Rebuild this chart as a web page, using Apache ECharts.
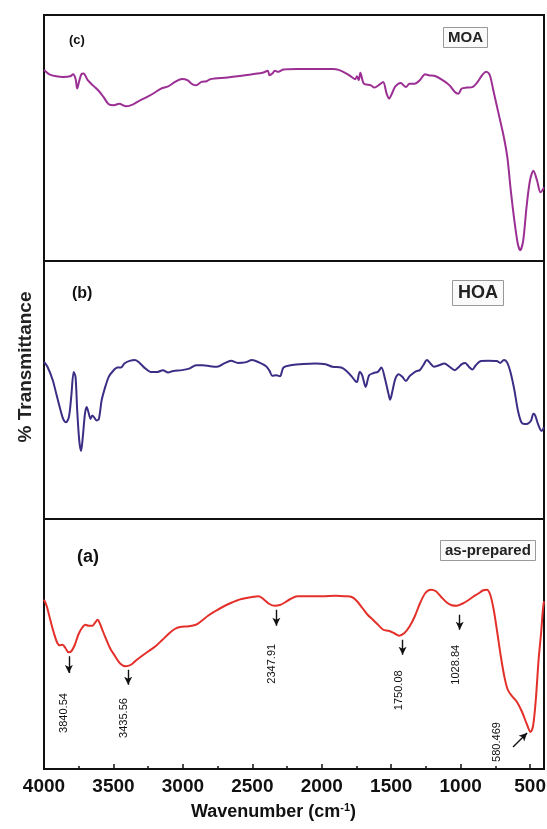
<!DOCTYPE html>
<html><head><meta charset="utf-8">
<script src="https://cdn.jsdelivr.net/npm/echarts@6/dist/echarts.min.js"></script>
<style>html,body{margin:0;padding:0;background:#fff}#c{width:547px;height:829px}</style>
</head><body><div id="c"></div>
<script>
// ---- data (wavenumber cm^-1, relative transmittance) ----
const moaWn = [4000,3962,3912,3862,3811,3791,3773,3761,3748,3731,3716,3685,3648,3610,3572,3534,3497,3459,3408,3358,3308,3257,3207,3157,3106,3056,3006,2968,2930,2905,2867,2829,2804,2678,2552,2427,2389,2376,2356,2338,2313,2276,2175,2049,1923,1873,1822,1785,1759,1747,1734,1722,1697,1646,1621,1583,1558,1533,1515,1495,1470,1432,1394,1369,1332,1294,1256,1231,1180,1130,1080,1042,1017,992,954,916,878,841,815,790,765,727,689,664,639,613,588,571,550,526,501,476,450,425,400];
const moaT  = [77.6,75.9,75.1,74.8,75.1,75.9,74.1,70.1,72.8,75.9,76.2,73.5,71.4,69.4,66.7,63.7,63.3,63.9,62.9,63.7,65.3,66.7,68.3,70.1,71.0,72.8,74.0,73.5,71.8,71.4,72.8,73.1,73.9,74.6,75.5,76.5,77.3,75.5,76.2,77.3,76.9,77.8,78.0,78.0,78.0,77.6,76.2,74.8,73.9,75.1,73.5,76.5,72.1,71.4,70.5,71.8,72.8,68.0,66.0,68.0,71.0,72.4,70.7,72.1,72.1,73.5,75.9,75.5,75.1,73.5,71.4,68.7,68.0,70.1,70.5,70.7,72.8,75.9,76.9,75.5,69.4,59.9,50.3,42.2,28.6,16.3,6.8,4.4,8.2,21.8,32.7,36.7,32.7,27.9,29.9];

const hoaWn = [4000,3975,3937,3912,3887,3862,3841,3821,3804,3786,3773,3761,3746,3733,3721,3705,3693,3680,3665,3653,3640,3622,3605,3585,3559,3534,3509,3471,3446,3421,3383,3345,3308,3270,3232,3182,3144,3106,3069,3006,2955,2905,2855,2804,2754,2703,2653,2603,2552,2502,2452,2401,2376,2356,2326,2301,2276,2225,2150,2049,1973,1923,1860,1822,1785,1759,1747,1727,1709,1684,1659,1626,1596,1571,1545,1520,1508,1490,1470,1445,1420,1394,1369,1344,1319,1294,1269,1243,1218,1193,1155,1117,1080,1042,1017,992,967,941,916,891,853,803,740,715,689,664,639,613,588,563,538,513,493,476,463,443,418,400];
const hoaT  = [60.9,59.0,53.8,48.6,43.4,38.8,37.5,39.5,47.3,57.0,55.1,42.1,30.3,26.4,31.6,40.8,43.4,41.4,38.8,40.1,39.5,38.2,38.8,46.0,51.2,55.1,57.0,58.7,58.7,60.3,61.3,61.6,60.3,58.3,57.0,57.0,57.7,56.8,57.4,57.7,58.3,59.6,59.6,59.2,59.0,60.3,61.3,60.5,60.7,61.6,60.7,59.2,57.4,55.5,55.7,55.3,58.7,59.6,60.0,60.3,60.0,59.0,58.7,57.4,55.3,53.5,53.1,57.0,55.7,51.2,55.7,56.6,57.0,58.7,54.4,48.6,46.2,49.9,54.4,56.1,55.1,53.5,55.3,56.4,57.3,57.7,59.6,61.6,60.3,59.0,59.6,60.3,59.0,57.7,58.7,60.0,60.5,59.0,57.9,59.6,61.2,61.3,61.2,60.5,61.6,60.5,56.4,49.9,42.1,37.5,36.8,37.1,38.2,40.8,40.1,36.8,34.2,35.5];

const apWn = [4000,3980,3955,3929,3904,3886,3866,3846,3823,3803,3778,3753,3727,3702,3677,3652,3634,3614,3594,3576,3551,3525,3488,3450,3412,3374,3336,3298,3248,3197,3147,3096,3059,3021,2958,2907,2869,2819,2768,2718,2655,2579,2503,2453,2415,2377,2339,2301,2263,2226,2175,2099,1999,1898,1834,1784,1746,1708,1670,1632,1595,1557,1519,1481,1443,1405,1367,1330,1292,1254,1216,1178,1140,1102,1065,1027,989,951,913,875,837,812,787,762,736,711,686,661,630,598,560,522,497,479,459,439,421,408,400];
const apT  = [67.7,65.1,59.7,54.4,50.4,49.5,49.7,48.4,46.7,47.1,49.7,53.7,56.4,57.7,57.3,57.3,58.4,59.7,57.7,55.1,51.7,48.4,45.1,42.1,41.1,41.7,43.5,45.1,47.1,49.1,51.7,54.4,56.0,56.8,57.1,57.7,59.1,61.3,63.1,64.7,66.4,68.0,68.8,69.1,67.7,66.0,65.3,65.6,66.7,68.0,69.1,69.1,69.1,69.3,69.1,68.8,67.1,64.4,61.7,59.7,57.7,55.7,55.3,54.4,53.3,54.4,57.1,61.1,66.4,70.4,71.7,71.1,68.8,66.7,65.5,65.3,66.1,67.3,68.8,70.1,71.5,71.7,69.7,63.7,54.4,45.1,37.1,31.7,29.1,27.1,23.1,17.7,14.8,17.1,27.7,43.7,54.4,63.7,67.1];

const xTickLabels = [4000,3500,3000,2500,2000,1500,1000,500];
const xMinorTicks = [3750,3250,2750,2250,1750,1250,750];

// peak annotations for panel (a)
const peakNames   = ['3840.54','3435.56','2347.91','1750.08','1028.84','580.469'];
const arrowStart  = [[3821,45.1],[3394,39.7],[2327,63.7],[1418,51.7],[1007,61.7],[623,8.8]];
const arrowEnd    = [[3821,38.4],[3394,33.7],[2327,57.3],[1418,45.7],[1007,55.7],[522,14.4]];
const labelAnchor = [[3854,22.4],[3425,20.4],[2357,42.1],[1443,31.5],[1034,41.7],[737,10.8]];

const zip = (a,b) => a.map((v,i)=>[v,b[i]]);
const FONT = '"Liberation Sans", Arial, sans-serif';

const grids = [
  {left:44, right:3, top:15, height:246},
  {left:44, right:3, top:261, height:258},
  {left:44, right:3, top:519, height:250}
].map(g => Object.assign({show:true, borderColor:'#111', borderWidth:2, backgroundColor:'#fff',
                          containLabel:false, outerBoundsMode:'none'}, g));

function xAx(i, showLabels){
  return {
    gridIndex:i, type:'value', inverse:true, min:400, max:4000, position:'bottom',
    axisLine:{show:false}, splitLine:{show:false},
    axisTick: showLabels ? {show:true, inside:true, length:5, lineStyle:{color:'#111', width:1.5}, customValues:xTickLabels} : {show:false},
    axisLabel: showLabels ? {show:true, customValues:xTickLabels, formatter:v=>String(v), fontFamily:FONT, fontWeight:'bold', fontSize:19, color:'#111', margin:8, hideOverlap:false} : {show:false}
  };
}
const xAxes = [xAx(0,false), xAx(1,false), xAx(2,true),
  {gridIndex:2, type:'value', inverse:true, min:400, max:4000, position:'bottom', axisLine:{show:false}, splitLine:{show:false},
   axisLabel:{show:false}, axisTick:{show:true, inside:true, length:3, lineStyle:{color:'#111', width:1.5}, customValues:xMinorTicks}}];
const yAxes = [0,1,2].map(i => ({gridIndex:i, type:'value', min:0, max:100, show:false}));

const lineSeries = (name, i, data, color) => ({
  name, type:'line', xAxisIndex:i, yAxisIndex:i, data, showSymbol:false, smooth:0.3,
  lineStyle:{color, width:2}, animation:false
});

const apSeries = lineSeries('as-prepared', 2, zip(apWn, apT), '#e3302a');
apSeries.markLine = {
  silent:true, symbol:['none','arrow'], symbolSize:[6,8], animation:false,
  lineStyle:{color:'#111', width:1.4, type:'solid'}, label:{show:false},
  data: arrowStart.map((s,k)=>[{coord:s},{coord:arrowEnd[k]}])
};
apSeries.markPoint = {
  silent:true, symbol:'circle', symbolSize:0, animation:false,
  label:{show:true, position:'inside', rotate:90, fontFamily:FONT, fontSize:11, color:'#111',
         formatter: p => p.name},
  data: labelAnchor.map((c,k)=>({coord:c, name:peakNames[k], value:peakNames[k]}))
};

const titles = [
  {text:'(c)', left:64, top:29, textStyle:{fontFamily:FONT, fontSize:13, fontWeight:'bold', color:'#111'}},
  {text:'(b)', left:67, top:281, textStyle:{fontFamily:FONT, fontSize:16, fontWeight:'bold', color:'#111'}},
  {text:'(a)', left:72, top:543, textStyle:{fontFamily:FONT, fontSize:18, fontWeight:'bold', color:'#111'}},
  {text:'MOA', left:443, top:27, padding:[3,5], borderColor:'#999', borderWidth:1, backgroundColor:'#fafafa',
   textStyle:{fontFamily:FONT, fontSize:15, fontWeight:'bold', color:'#222'}},
  {text:'HOA', left:452, top:280, padding:[4,6], borderColor:'#999', borderWidth:1, backgroundColor:'#fafafa',
   textStyle:{fontFamily:FONT, fontSize:18, fontWeight:'bold', color:'#222'}},
  {text:'as-prepared', left:440, top:540, padding:[3,5], borderColor:'#999', borderWidth:1, backgroundColor:'#fafafa',
   textStyle:{fontFamily:FONT, fontSize:15, fontWeight:'bold', color:'#222'}}
];

const chart = echarts.init(document.getElementById('c'), null, {renderer:'canvas'});
chart.setOption({
  backgroundColor:'#fff', animation:false,
  title: titles,
  grid: grids, xAxis: xAxes, yAxis: yAxes,
  series: [
    lineSeries('MOA', 0, zip(moaWn, moaT), '#9b2f93'),
    lineSeries('HOA', 1, zip(hoaWn, hoaT), '#3a2e85'),
    apSeries
  ],
  graphic: [
    {type:'text', left:'center', top:802, style:{
      text:'{t|Wavenumber (cm}{s|-1}{t|)}',
      rich:{t:{fontFamily:FONT, fontSize:18, fontWeight:'bold', fill:'#111'},
            s:{fontFamily:FONT, fontSize:11, fontWeight:'bold', fill:'#111', verticalAlign:'top', padding:[0,0,10,0]}}
    }},
    {type:'text', x:16, y:367, rotation:Math.PI/2, style:{
      text:'% Transmittance', fontFamily:FONT, fontSize:19, fontWeight:'bold', fill:'#222',
      align:'center', verticalAlign:'top'}}
  ]
});
</script></body></html>
